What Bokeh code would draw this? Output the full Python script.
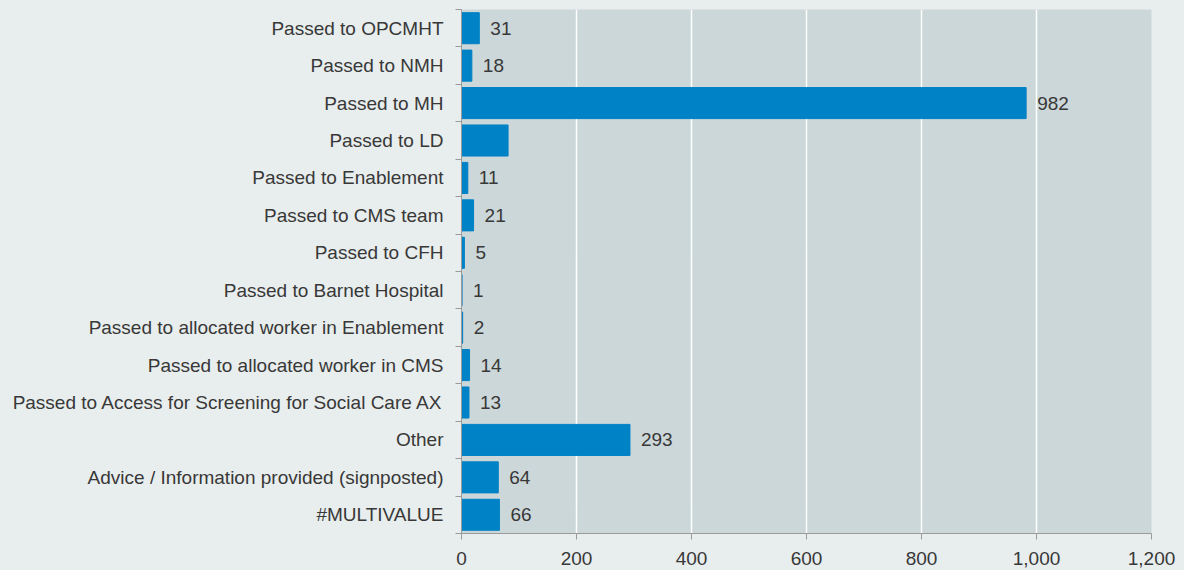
from bokeh.plotting import figure
from bokeh.models import ColumnDataSource, FixedTicker, NumeralTickFormatter, Range1d
from bokeh.core.properties import value
from bokeh.embed import file_html
from bokeh.resources import INLINE

categories = [
    "Passed to OPCMHT",
    "Passed to NMH",
    "Passed to MH",
    "Passed to LD",
    "Passed to Enablement",
    "Passed to CMS team",
    "Passed to CFH",
    "Passed to Barnet Hospital",
    "Passed to allocated worker in Enablement",
    "Passed to allocated worker in CMS",
    "Passed to Access for Screening for Social Care AX",
    "Other",
    "Advice / Information provided (signposted)",
    "#MULTIVALUE",
]
counts = [31, 18, 982, 81, 11, 21, 5, 1, 2, 14, 13, 293, 64, 66]
labels = ["31", "18", "982", "", "11", "21", "5", "1", "2", "14", "13", "293", "64", "66"]
x_ticks = [0, 200, 400, 600, 800, 1000, 1200]

n = len(categories)
ypos = [n - 1 - i for i in range(n)]

src = ColumnDataSource(dict(y=ypos, v=counts, lab=labels, cat=categories))

FONT = "Liberation Sans"
TXT = "#383838"
FS = "19px"

p = figure(width=1184, height=570, output_backend="svg", toolbar_location=None,
           x_range=Range1d(0, 1200), y_range=Range1d(-0.5, n - 0.5),
           min_border_left=461, min_border_right=33, min_border_top=9, min_border_bottom=37)
p.background_fill_color = "#ccd7d9"
p.border_fill_color = "#e8eded"
p.outline_line_color = None

p.hbar(y="y", right="v", left=0, height=0.83, source=src,
       fill_color="#0082c6", line_color="#0082c6")
p.text(x="v", y="y", text="lab", source=src, x_offset=11,
       text_baseline="middle", text_align="left",
       text_font=value(FONT), text_font_size=FS, text_color=TXT)

# x axis
p.xaxis.ticker = FixedTicker(ticks=x_ticks)
p.xaxis.formatter = NumeralTickFormatter(format="0,0")
p.xaxis.major_label_text_font = FONT
p.xaxis.major_label_text_font_size = FS
p.xaxis.major_label_text_color = TXT
p.xaxis.axis_line_color = "#9a9a9a"
p.xaxis.major_tick_line_color = "#9a9a9a"
p.xaxis.major_tick_out = 6
p.xaxis.major_tick_in = 0
p.xaxis.minor_tick_line_color = None
p.xaxis.major_label_standoff = 12

# y axis with labels at centers, ticks at boundaries
p.yaxis.ticker = FixedTicker(ticks=ypos, minor_ticks=[i - 0.5 for i in range(n + 1)])
p.yaxis.major_label_overrides = {y: c for y, c in zip(ypos, categories)}
p.yaxis.major_label_text_font = FONT
p.yaxis.major_label_text_font_size = FS
p.yaxis.major_label_text_color = TXT
p.yaxis.major_tick_line_color = None
p.yaxis.minor_tick_line_color = "#9a9a9a"
p.yaxis.minor_tick_out = 6
p.yaxis.minor_tick_in = 0
p.yaxis.axis_line_color = "#9a9a9a"
p.yaxis.major_label_standoff = 12

p.xgrid.grid_line_color = "white"
p.xgrid.grid_line_width = 1.5
p.ygrid.grid_line_color = None

html = file_html(p, INLINE)
html = html.replace("<head>", "<head><style>html,body{background:#e8eded;}</style>", 1)
open("out.html", "w").write(html)
